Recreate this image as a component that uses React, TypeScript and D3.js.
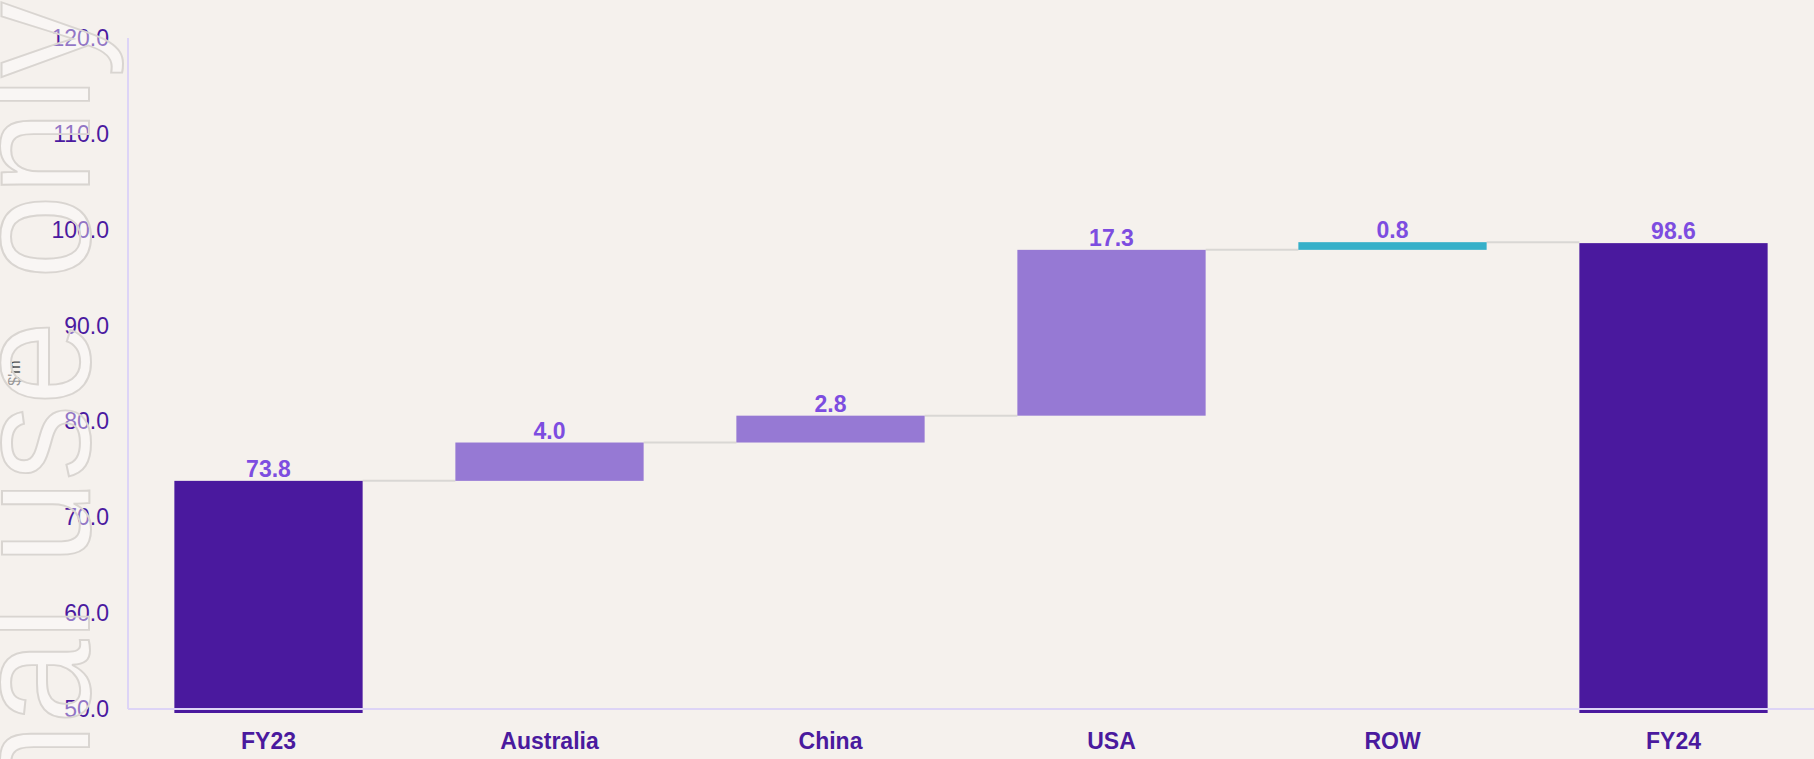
import React from "react";
import * as d3 from "d3";

const categories = ["FY23", "Australia", "China", "USA", "ROW", "FY24"];
const values = [73.8, 4.0, 2.8, 17.3, 0.8, 98.6];
const kinds = ["total", "up", "up", "up", "other", "total"];
const yTicks = [50, 60, 70, 80, 90, 100, 110, 120];

const W = 1814;
const H = 759;

const App = () => {
  const x = d3.scaleBand().domain(categories).range([128, W]).paddingInner(0.33).paddingOuter(0.165);
  const y = d3.scaleLinear().domain([50, 120]).range([709, 38]);

  // build waterfall steps
  let run = 0;
  const steps = categories.map((c, i) => {
    const v = values[i];
    let start, end;
    if (kinds[i] === "total") {
      start = 50;
      end = v;
      run = v;
    } else {
      start = run;
      end = run + v;
      run = end;
    }
    return { c, v, start, end, kind: kinds[i] };
  });

  const color = k => (k === "total" ? "#4a199e" : k === "up" ? "#9679d4" : "#36b0c9");
  const bw = x.bandwidth();
  const font = "Arial, 'Liberation Sans', sans-serif";

  return (
    <svg width={W} height={H} style={{ position: "absolute", left: 0, top: 0 }}>
      <rect width={W} height={H} fill="#f5f1ed" />

      {/* connectors */}
      {steps.slice(0, -1).map((s, i) => (
        <line key={"c" + i}
          x1={x(s.c) + bw} x2={x(steps[i + 1].c)}
          y1={y(s.end)} y2={y(s.end)}
          stroke="#d9d7d4" strokeWidth={2} />
      ))}

      {/* bars */}
      {steps.map(s => {
        const top = y(Math.max(s.start, s.end));
        const bot = s.kind === "total" ? y(50) + 4 : y(Math.min(s.start, s.end));
        return <rect key={s.c} x={x(s.c)} y={top} width={bw} height={bot - top} fill={color(s.kind)} />;
      })}

      {/* axes */}
      <line x1={128} x2={128} y1={38} y2={709} stroke="#ddd4f6" strokeWidth={2} />
      <line x1={128} x2={W} y1={709} y2={709} stroke="#ddd4f6" strokeWidth={2} />

      {yTicks.map(t => (
        <text key={t} x={109} y={y(t)} dy="0.35em" textAnchor="end"
          fontFamily={font} fontSize={23} fill="#4b1aa0">
          {d3.format(".1f")(t)}
        </text>
      ))}

      {steps.map(s => (
        <text key={"v" + s.c} x={x(s.c) + bw / 2} y={y(Math.max(s.start, s.end)) - 4} textAnchor="middle"
          fontFamily={font} fontSize={23} fontWeight="bold" fill="#7d4de0">
          {s.v.toFixed(1)}
        </text>
      ))}

      {categories.map(c => (
        <text key={"x" + c} x={x(c) + bw / 2} y={749} textAnchor="middle"
          fontFamily={font} fontSize={23} fontWeight="bold" fill="#4a1a9e">
          {c}
        </text>
      ))}

      <text transform="translate(20,373) rotate(-90)" textAnchor="middle"
        fontFamily={font} fontSize={16} fill="#555">
        $'m
      </text>

      {/* watermark */}
      <text transform="translate(89,2) rotate(-90) scale(0.91,1)" textAnchor="end"
        fontFamily={font} fontSize={166}
        fill="#ffffff" fillOpacity={0.4} stroke="#d9d5d1" strokeWidth={2}>
        For internal use only
      </text>
    </svg>
  );
};

export default App;
